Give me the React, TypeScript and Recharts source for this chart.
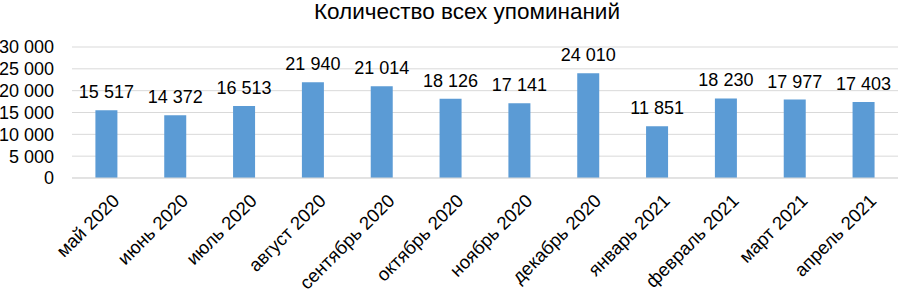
import { BarChart, Bar, XAxis, YAxis, CartesianGrid, LabelList } from "recharts";

const months = [
  "май 2020",
  "июнь 2020",
  "июль 2020",
  "август 2020",
  "сентябрь 2020",
  "октябрь 2020",
  "ноябрь 2020",
  "декабрь 2020",
  "январь 2021",
  "февраль 2021",
  "март 2021",
  "апрель 2021",
];
const mentions = [15517, 14372, 16513, 21940, 21014, 18126, 17141, 24010, 11851, 18230, 17977, 17403];
const yTicks = [0, 5000, 10000, 15000, 20000, 25000, 30000];

const data = months.map((m, i) => ({ month: m, value: mentions[i] }));

const fmt = (v: number) => String(v).replace(/\B(?=(\d{3})+(?!\d))/g, " ");
const FONT = "'Liberation Sans', Arial, sans-serif";

function MonthTick({ x, y, payload }: any) {
  const ax = x + 14;
  const ay = y + 16;
  return (
    <text
      x={ax}
      y={ay}
      transform={`rotate(-45, ${ax}, ${ay})`}
      textAnchor="end"
      fontSize={18.5}
      fontFamily={FONT}
      fill="#000"
    >
      {payload.value}
    </text>
  );
}

function ValueLabel({ x, y, width, value }: any) {
  return (
    <text
      x={x + width / 2}
      y={y - 12}
      textAnchor="middle"
      fontSize={18}
      fontFamily={FONT}
      fill="#000"
    >
      {fmt(Number(value))}
    </text>
  );
}

export default function App() {
  return (
    <div style={{ position: "absolute", left: 0, top: 0, width: 902, height: 290, background: "#fff" }}>
      <div
        style={{
          position: "absolute",
          left: 0,
          top: 0,
          width: 934,
          textAlign: "center",
          fontFamily: FONT,
          fontSize: 22.5,
          lineHeight: "24px",
          color: "#000",
        }}
      >
        Количество всех упоминаний
      </div>
      <BarChart
        width={902}
        height={290}
        data={data}
        margin={{ top: 47, right: 4, left: 0, bottom: 0 }}
        barCategoryGap="34%"
      >
        <CartesianGrid vertical={false} stroke="#d9d9d9" />
        <XAxis
          dataKey="month"
          interval={0}
          height={112}
          tickLine={false}
          stroke="#d9d9d9"
          tick={<MonthTick />}
        />
        <YAxis
          width={72}
          domain={[0, 30000]}
          ticks={yTicks}
          interval={0}
          tickFormatter={fmt}
          axisLine={false}
          tickLine={false}
          tickSize={0}
          tickMargin={18}
          tick={{ fontSize: 18, fontFamily: FONT, fill: "#000" }}
        />
        <Bar dataKey="value" fill="#5b9bd5" isAnimationActive={false}>
          <LabelList dataKey="value" content={<ValueLabel />} />
        </Bar>
      </BarChart>
    </div>
  );
}
